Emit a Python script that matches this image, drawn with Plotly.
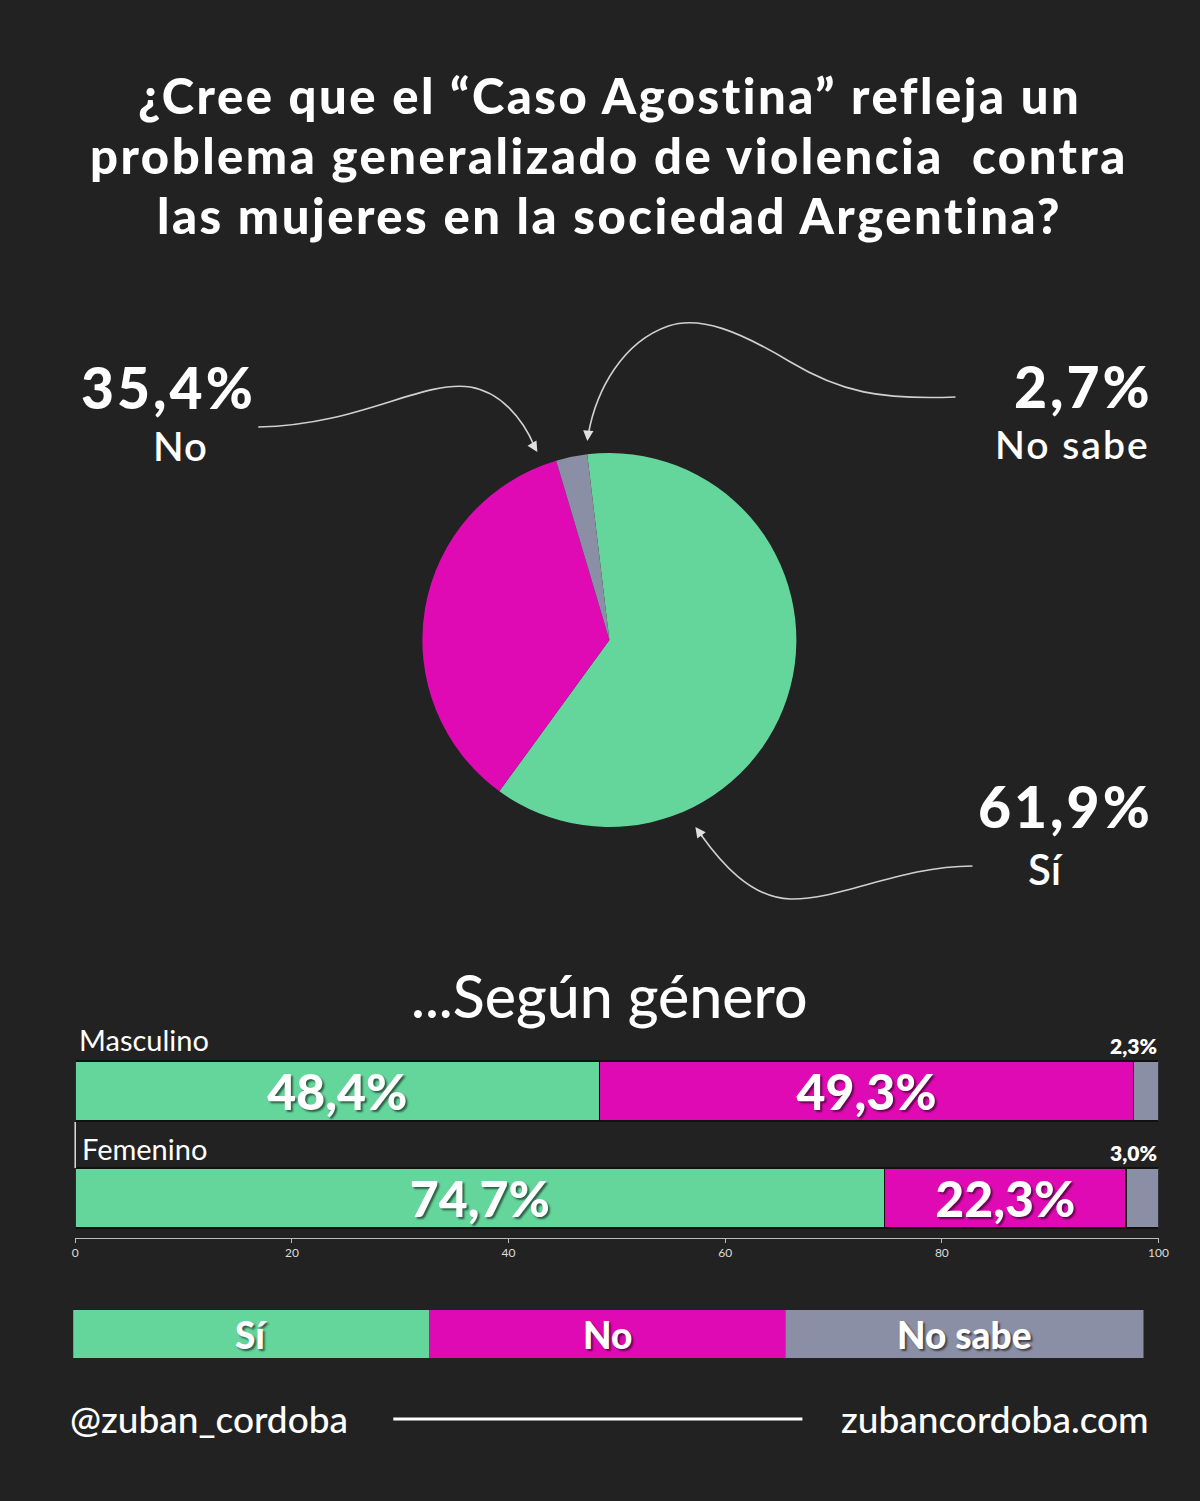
import plotly.graph_objects as go

# ---------------- DATA ----------------
pie_labels = ["Sí", "No", "No sabe"]
pie_values = [61.9, 35.4, 2.7]

groups = ["Masculino", "Femenino"]
si_vals = [48.4, 74.7]
no_vals = [49.3, 22.3]
ns_vals = [2.3, 3.0]

x_ticks = [0, 20, 40, 60, 80, 100]

title_lines = [
    "¿Cree que el “Caso Agostina” refleja un",
    "problema generalizado de violencia  contra",
    "las mujeres en la sociedad Argentina?",
]

# ---------------- STYLE ----------------
W, H = 1200, 1501
BG = "#222222"
GREEN = "#64D59B"
MAGENTA = "#E00AB4"
GRAY = "#8B8FA5"
colors = [GREEN, MAGENTA, GRAY]
FONT = "Lato"
SHADOW = "2px 2px 2px rgba(0,0,0,0.55)"


def px(x):
    # horizontal pixel -> paper (with small empirical calibration)
    return ((x - 2.8) / 0.9889) / W


def py(y):
    return 1 - y / H


def fmt(v):
    return f"{v:.1f}%".replace(".", ",")


def spaced(t, ls):
    return f"<span style='letter-spacing:{ls}px'>{t}</span>"


fig = go.Figure()

# Pie
fig.add_trace(go.Pie(
    labels=pie_labels, values=pie_values, sort=False, direction="clockwise",
    rotation=-6.8, textinfo="none", hoverinfo="label+percent",
    marker=dict(colors=colors, line=dict(width=0)),
    domain=dict(x=[px(422), px(796)], y=[py(827), py(453)]),
    showlegend=False,
))

# Stacked bars
for name, vals, col, show_text in [("Sí", si_vals, GREEN, True),
                                   ("No", no_vals, MAGENTA, True),
                                   ("No sabe", ns_vals, GRAY, False)]:
    fig.add_trace(go.Bar(
        y=groups, x=vals, orientation="h", name=name,
        marker=dict(color=col, line=dict(color="#111111", width=1.5)),
        text=[fmt(v) for v in vals] if show_text else None,
        textposition="inside" if show_text else "none",
        insidetextanchor="middle", constraintext="none",
        textfont=dict(family=FONT, size=50, color="white", weight=900,
                      shadow=SHADOW),
        showlegend=False, xaxis="x", yaxis="y",
    ))

annotations = []
shapes = []

# Title
for i, line in enumerate(title_lines):
    annotations.append(dict(
        text=spaced(line, 2.5), x=px(609), y=py(95 + 60 * i), xref="paper", yref="paper",
        xanchor="center", yanchor="middle", showarrow=False,
        font=dict(family=FONT, size=49, color="white", weight=900),
    ))

# Pie labels
big = dict(family=FONT, size=57, color="white", weight=900)
med = dict(family=FONT, size=40, color="white", weight=600)
annotations += [
    dict(text=spaced(fmt(pie_values[1]), 3), x=px(168), y=py(387), xanchor="center", font=big),
    dict(text=spaced(pie_labels[1], 1), x=px(180), y=py(446), xanchor="center", font=med),
    dict(text=spaced(fmt(pie_values[2]), 3), x=px(1154), y=py(386), xanchor="right", font=big),
    dict(text=spaced(pie_labels[2], 2), x=px(1151), y=py(444), xanchor="right",
         font=dict(med, size=39)),
    dict(text=spaced(fmt(pie_values[0]), 3), x=px(1154), y=py(806), xanchor="right", font=big),
    dict(text=pie_labels[0], x=px(1046), y=py(869), xanchor="center", font=dict(med, size=42)),
]
for a in annotations[-6:]:
    a.update(xref="paper", yref="paper", yanchor="middle", showarrow=False)


def path(points):
    # points: start + groups of 3 for cubic segments (pixel coords)
    s = f"M {px(points[0][0])},{py(points[0][1])}"
    rest = points[1:]
    for i in range(0, len(rest), 3):
        a, b, c = rest[i:i + 3]
        s += f" C {px(a[0])},{py(a[1])} {px(b[0])},{py(b[1])} {px(c[0])},{py(c[1])}"
    return s


curves = [
    [(258, 427), (360, 425), (420, 380), (470, 387), (500, 392), (522, 418), (534, 446)],
    [(955, 397), (880, 400), (840, 392), (790, 362), (740, 332), (700, 315), (668, 326),
     (622, 342), (596, 390), (588, 434)],
    [(972, 866), (900, 866), (840, 900), (790, 899), (750, 898), (720, 862), (700, 834)],
]
for c in curves:
    shapes.append(dict(type="path", path=path(c), xref="paper", yref="paper",
                       line=dict(color="#d0d0d0", width=1.6)))
# Arrow heads
for tip, back in [((537, 452), (531, 442)), ((587, 441), (588, 430)), ((695, 827), (703, 838))]:
    annotations.append(dict(
        x=px(tip[0]), y=py(tip[1]), xref="paper", yref="paper",
        ax=back[0] - tip[0], ay=back[1] - tip[1], axref="pixel", ayref="pixel",
        text="", showarrow=True, arrowhead=2, arrowsize=1.3, arrowwidth=1.6,
        arrowcolor="#e0e0e0", standoff=0,
    ))

# Subtitle
annotations.append(dict(
    text="...Según género", x=px(609), y=py(995), xref="paper", yref="paper",
    xanchor="center", yanchor="middle", showarrow=False,
    font=dict(family=FONT, size=59, color="white", weight=500),
))

# Group labels and small gray labels
for g, xs, ys in [(groups[0], 77, 52), (groups[1], 80, 49)]:
    annotations.append(dict(
        text=g, x=px(xs), y=g, xref="paper", yref="y", yshift=ys,
        xanchor="left", yanchor="middle", showarrow=False,
        font=dict(family=FONT, size=29, color="white", weight=400),
    ))
for g, v, ys in zip(groups, ns_vals, [46, 45]):
    annotations.append(dict(
        text=fmt(v), x=100, y=g, xref="x", yref="y", yshift=ys,
        xanchor="right", yanchor="middle", showarrow=False,
        font=dict(family=FONT, size=21, color="white", weight=800),
    ))

# small left line between bars
shapes.append(dict(type="line", xref="paper", yref="paper",
                   x0=px(75), x1=px(75), y0=py(1122), y1=py(1168),
                   line=dict(color="#dddddd", width=1.5)))

# Legend bar
leg_x = [73, 429, 785, 1143]
for i, lab in enumerate(pie_labels):
    shapes.append(dict(type="rect", xref="paper", yref="paper",
                       x0=px(leg_x[i]), x1=px(leg_x[i + 1]), y0=py(1358), y1=py(1310),
                       fillcolor=colors[i], line=dict(width=0)))
    annotations.append(dict(
        text=lab, x=px((leg_x[i] + leg_x[i + 1]) / 2), y=py(1334),
        xref="paper", yref="paper", xanchor="center", yanchor="middle",
        showarrow=False,
        font=dict(family=FONT, size=37, color="white", weight=900, shadow=SHADOW),
    ))

# Footer
annotations += [
    dict(text="@zuban_cordoba", x=px(68), y=py(1418), xanchor="left",
         font=dict(family=FONT, size=37, color="white", weight=500)),
    dict(text="zubancordoba.com", x=px(1150), y=py(1418), xanchor="right",
         font=dict(family=FONT, size=37, color="white", weight=500)),
]
for a in annotations[-2:]:
    a.update(xref="paper", yref="paper", yanchor="middle", showarrow=False)
shapes.append(dict(type="line", xref="paper", yref="paper",
                   x0=px(393), x1=px(802), y0=py(1419), y1=py(1419),
                   line=dict(color="white", width=3)))

fig.update_layout(
    width=W, height=H, margin=dict(l=0, r=0, t=0, b=0),
    paper_bgcolor=BG, plot_bgcolor=BG, barmode="stack", bargap=0.44,
    xaxis=dict(domain=[px(75), px(1158)], range=[0, 100], tickvals=x_ticks,
               showgrid=False, zeroline=False, showline=True, linecolor="#bbbbbb",
               linewidth=1, ticks="outside", ticklen=4, tickcolor="#bbbbbb",
               tickfont=dict(family=FONT, size=12, color="#dddddd"), anchor="y",
               fixedrange=True),
    yaxis=dict(domain=[py(1238), py(1040)], range=[-0.374, 1.477],
               categoryorder="array", categoryarray=["Femenino", "Masculino"],
               showticklabels=False, showgrid=False, zeroline=False,
               showline=False, fixedrange=True),
    annotations=annotations, shapes=shapes,
)

fig.write_html("out.html")
